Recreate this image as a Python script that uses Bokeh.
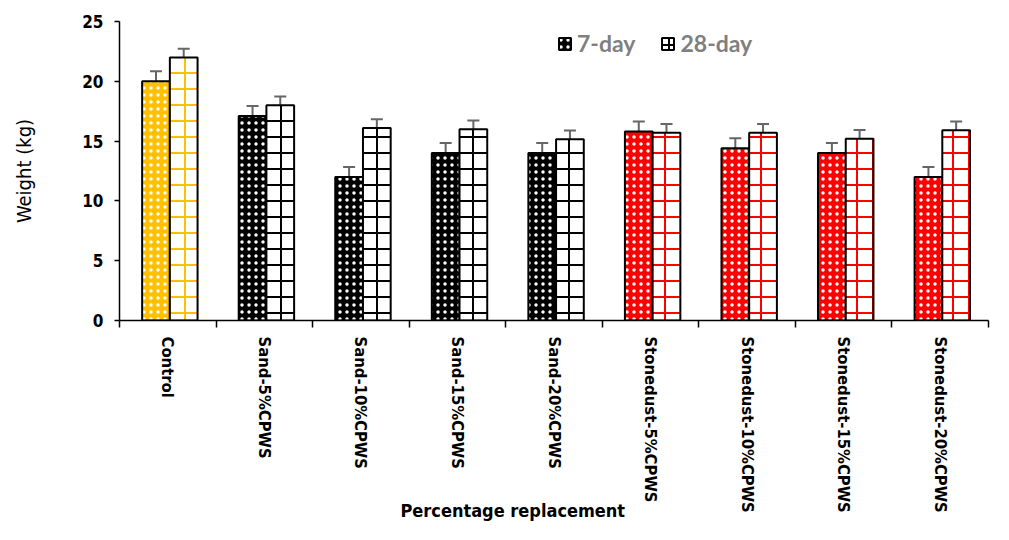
from bokeh.plotting import figure
from bokeh.models import (Range1d, FixedTicker, ColumnDataSource, Whisker,
                          TeeHead, Legend, LegendItem, Title)
from bokeh.embed import file_html
from bokeh.resources import INLINE

categories = ["Control", "Sand-5%CPWS", "Sand-10%CPWS", "Sand-15%CPWS", "Sand-20%CPWS",
              "Stonedust-5%CPWS", "Stonedust-10%CPWS", "Stonedust-15%CPWS", "Stonedust-20%CPWS"]
day7 = [20.0, 17.1, 12.0, 14.0, 14.0, 15.8, 14.4, 14.0, 12.0]
day28 = [22.0, 18.0, 16.1, 16.0, 15.15, 15.7, 15.7, 15.2, 15.9]
err7 = [0.84, 0.84, 0.84, 0.84, 0.84, 0.84, 0.84, 0.84, 0.84]
err28 = [0.73, 0.73, 0.73, 0.73, 0.73, 0.73, 0.73, 0.73, 0.73]
bar_colors = ["#FFC000", "#000000", "#000000", "#000000", "#000000",
              "#FF0000", "#FF0000", "#FF0000", "#FF0000"]
y_ticks = [0, 5, 10, 15, 20, 25]
series_names = ["7-day", "28-day"]
x_title = "Percentage replacement"
y_title = "Weight (kg)"

FONT = "DejaVu Sans Condensed"
n = len(categories)

src = ColumnDataSource(dict(
    x7=[i + 0.378 for i in range(n)],
    x28=[i + 0.665 for i in range(n)],
    day7=day7, day28=day28,
    up7=[v + e for v, e in zip(day7, err7)], lo7=[v - e for v, e in zip(day7, err7)],
    up28=[v + e for v, e in zip(day28, err28)], lo28=[v - e for v, e in zip(day28, err28)],
    color=bar_colors,
))

p = figure(width=993, height=524, x_range=Range1d(0, n), y_range=Range1d(0, 25),
           output_backend="svg", toolbar_location=None,
           min_border_left=119, min_border_top=21, min_border_right=5, min_border_bottom=204)
p.outline_line_color = None
p.grid.visible = False
p.background_fill_color = "white"
p.border_fill_color = "white"

# bars
b7 = p.vbar(x="x7", top="day7", width=0.287, bottom=0, source=src,
            fill_color="color", line_color="black", line_width=2,
            hatch_pattern="dot", hatch_color="white", hatch_scale=7, hatch_weight=1)
b28 = p.vbar(x="x28", top="day28", width=0.287, bottom=0, source=src,
             fill_color="white", line_color="black", line_width=2,
             hatch_pattern="cross", hatch_color="color", hatch_scale=16, hatch_weight=2)

# error bars
for up, lo, base in (("up7", "lo7", "x7"), ("up28", "lo28", "x28")):
    w = Whisker(source=src, base=base, upper=up, lower=lo,
                line_color="#666666", line_width=2,
                upper_head=TeeHead(size=12, line_color="#666666", line_width=2),
                lower_head=TeeHead(size=12, line_color="#666666", line_width=2))
    p.add_layout(w)

legend = Legend(items=[LegendItem(label=series_names[0], renderers=[b7], index=1),
                       LegendItem(label=series_names[1], renderers=[b28], index=1)],
                orientation="horizontal", location=(438, 263),
                padding=0, margin=0, spacing=25, label_standoff=5,
                glyph_width=15, glyph_height=15,
                border_line_color=None, background_fill_alpha=0,
                label_text_font="Lato", label_text_font_style="bold",
                label_text_font_size="23px", label_text_color="#7F7F7F")
p.add_layout(legend, "center")

# y axis
ya = p.yaxis[0]
ya.ticker = FixedTicker(ticks=y_ticks)
ya.major_tick_out = 5
ya.major_tick_in = 0
ya.minor_tick_line_color = None
ya.axis_line_width = 1.5
ya.major_tick_line_width = 1.5
ya.axis_line_color = "black"
ya.major_label_standoff = 11
ya.major_label_text_font = FONT
ya.major_label_text_font_style = "bold"
ya.major_label_text_font_size = "17px"
ya.major_label_text_color = "black"
ya.axis_label = y_title
ya.axis_label_text_font = FONT
ya.axis_label_text_font_style = "normal"
ya.axis_label_text_font_size = "20px"
ya.axis_label_text_color = "black"
ya.axis_label_standoff = 43

# x axis: labels at category centres, boundary ticks as minor ticks
xa = p.xaxis[0]
xa.ticker = FixedTicker(ticks=[i + 0.5 for i in range(n)], minor_ticks=list(range(n + 1)))
xa.major_label_overrides = {i + 0.5: c for i, c in enumerate(categories)}
xa.major_label_orientation = "vertical"
xa.major_tick_line_color = None
xa.major_tick_out = 7
xa.major_tick_in = 0
xa.minor_tick_out = 7
xa.minor_tick_in = 0
xa.minor_tick_line_color = "black"
xa.minor_tick_line_width = 1.5
xa.axis_line_width = 1.5
xa.axis_line_color = "black"
xa.major_label_standoff = 9
xa.major_label_text_font = FONT
xa.major_label_text_font_style = "bold"
xa.major_label_text_font_size = "16.5px"
xa.major_label_text_color = "black"

# x-axis title, offset left as in the original
xt = Title(text=x_title, align="left", offset=281, vertical_align="top", standoff=-32,
           text_font=FONT, text_font_style="bold", text_font_size="18px", text_color="black")
p.add_layout(xt, "below")

open("out.html", "w").write(file_html(p, INLINE))
